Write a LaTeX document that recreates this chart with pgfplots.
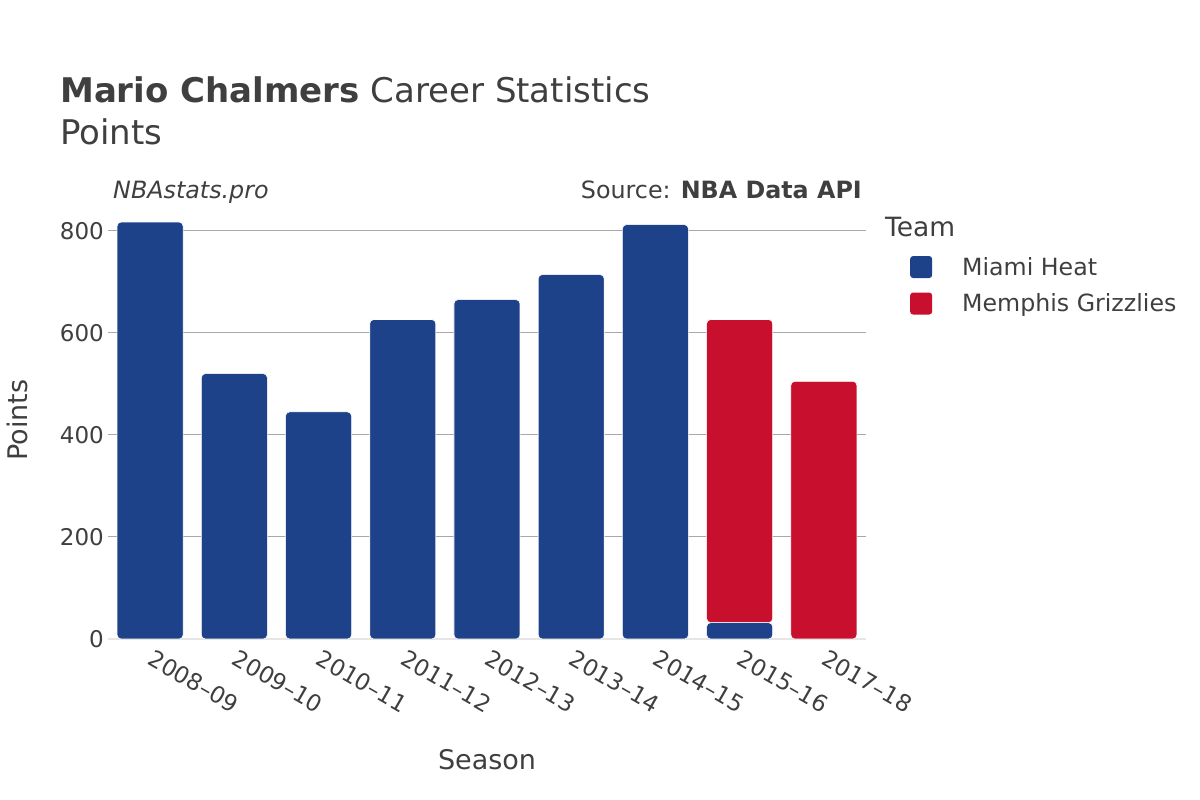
\documentclass[border=0pt]{standalone}
\usepackage{pgfplots}
\pgfplotsset{compat=1.18}
\usepackage{fontspec}
\setmainfont{DejaVu Sans}
\definecolor{heat}{HTML}{1D428A}
\definecolor{griz}{HTML}{C8102E}
\definecolor{txt}{HTML}{3F3F3F}
\definecolor{gridc}{HTML}{A8A8A8}
\definecolor{zeroc}{HTML}{E6E6E6}
\begin{document}
\begin{tikzpicture}
\path[use as bounding box] (0pt,0pt) rectangle (1200pt,800pt);
\node[anchor=base west, text=txt, inner sep=0pt, font=\fontsize{34}{40}\selectfont] at (60pt,697pt) {\textbf{Mario Chalmers} Career Statistics};
\node[anchor=base west, text=txt, inner sep=0pt, font=\fontsize{34}{40}\selectfont] at (60pt,655pt) {Points};
\node[anchor=base west, text=txt, inner sep=0pt, font=\fontsize{23.8}{28}\selectfont\itshape] at (113pt,601pt) {NBAstats.pro};
\node[anchor=base east, text=txt, inner sep=0pt, font=\fontsize{23.8}{28}\selectfont] at (862pt,601pt) {Source: \textbf{NBA Data API}};
\node[anchor=base west, text=txt, inner sep=0pt, font=\fontsize{26.5}{30}\selectfont] at (885pt,563pt) {Team};
\node[rotate=90, text=txt, inner sep=0pt, font=\fontsize{27}{30}\selectfont] at (17pt,380pt) {Points};
\node[text=txt, inner sep=0pt, font=\fontsize{27}{30}\selectfont] at (487pt,40pt) {Season};
\begin{axis}[
  at={(108pt,161pt)}, anchor=south west,
  width=758pt, height=433.8pt, scale only axis,
  xmin=-0.5, xmax=8.5, ymin=0, ymax=850,
  ybar stacked, bar width=66pt,
  axis line style={draw=none},
  xtick=data,
  xticklabels={2008–09,2009–10,2010–11,2011–12,2012–13,2013–14,2014–15,2015–16,2017–18},
  ytick={200,400,600,800},
  extra y ticks={0},
  extra y tick style={grid style={color=zeroc, line width=2pt}},
  ymajorgrids,
  grid style={color=gridc, line width=0.9pt},
  major tick length=0pt,
  /pgf/number format/assume math mode=true,
  tick label style={font=\fontsize{23}{26}\selectfont, text=txt},
  yticklabel style={anchor=east, inner sep=0pt, xshift=-4pt},
  xticklabel style={rotate=-30, anchor=north west, inner sep=0pt, xshift=9pt, yshift=-6pt},
  legend style={draw=none, fill=none, at={(1.058,0.885)}, anchor=north west,
    font=\fontsize{23.7}{27}\selectfont, text=txt, row sep=13pt, inner sep=0pt},
  legend cell align=left,
  legend image code/.code={\fill[#1, draw=none, rounded corners=3pt] (0pt,-11pt) rectangle (22pt,11pt);},
]
\addplot[fill=heat, draw=white, line width=0.6pt, rounded corners=4pt] coordinates {
 (0,817) (1,520) (2,445) (3,626) (4,665) (5,714) (6,812) (7,32) (8,0)};
\addlegendentry{\hspace{28pt}Miami Heat}
\addplot[fill=griz, draw=white, line width=0.6pt, rounded corners=4pt] coordinates {
 (0,0) (1,0) (2,0) (3,0) (4,0) (5,0) (6,0) (7,594) (8,505)};
\addlegendentry{\hspace{28pt}Memphis Grizzlies}
\end{axis}
\end{tikzpicture}
\end{document}
